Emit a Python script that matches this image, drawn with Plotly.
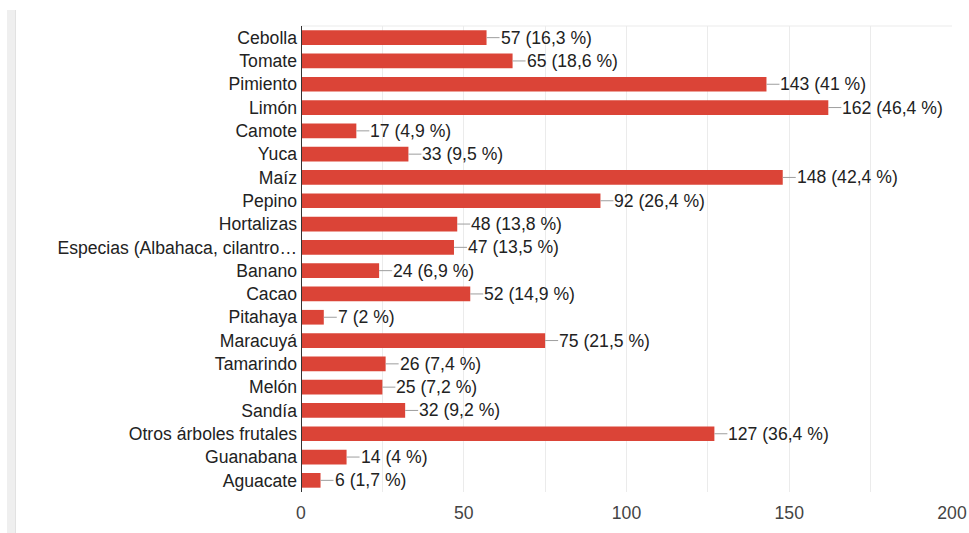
import plotly.graph_objects as go

categories = ["Cebolla", "Tomate", "Pimiento", "Limón", "Camote", "Yuca", "Maíz", "Pepino",
              "Hortalizas", "Especias (Albahaca, cilantro…", "Banano", "Cacao", "Pitahaya",
              "Maracuyá", "Tamarindo", "Melón", "Sandía", "Otros árboles frutales",
              "Guanabana", "Aguacate"]
counts = [57, 65, 143, 162, 17, 33, 148, 92, 48, 47, 24, 52, 7, 75, 26, 25, 32, 127, 14, 6]
percents = ["16,3", "18,6", "41", "46,4", "4,9", "9,5", "42,4", "26,4", "13,8", "13,5",
            "6,9", "14,9", "2", "21,5", "7,4", "7,2", "9,2", "36,4", "4", "1,7"]
x_ticks = [0, 50, 100, 150, 200]

FONT = "Liberation Sans, Arial, sans-serif"
BAR = "#db4437"
FS = 17.6

# plot area spans page x 301..952, y 26..492
ML, MT = 301, 26
PW, PH = 651, 466
W, H = 969, 533

fig = go.Figure(go.Bar(
    x=counts, y=categories, orientation="h",
    marker=dict(color=BAR, line=dict(width=0)),
    width=0.63, hoverinfo="x+y",
))

annotations = []
for c, v, p in zip(categories, counts, percents):
    annotations.append(dict(
        x=v, y=c, xref="x", yref="y",
        text=f"{v} ({p} %)", showarrow=True, arrowhead=0, arrowwidth=1,
        arrowcolor="#9e9e9e", ax=13, ay=0, axref="pixel", ayref="pixel",
        xanchor="left", yanchor="middle", standoff=0, startstandoff=0,
        borderpad=0, font=dict(family=FONT, size=FS, color="#222222"),
    ))

fig.update_layout(
    width=W, height=H,
    margin=dict(l=ML, r=W - ML - PW, t=MT, b=H - MT - PH, autoexpand=False),
    paper_bgcolor="white", plot_bgcolor="white",
    font=dict(family=FONT, size=FS, color="#222222"),
    showlegend=False,
    annotations=annotations,
    xaxis=dict(
        range=[0, 200], tickvals=x_ticks, showgrid=True, gridcolor="#ebebeb", gridwidth=1,
        minor=dict(dtick=25, tick0=0, showgrid=True, gridcolor="#ebebeb", gridwidth=1),
        zeroline=False, showline=False, ticks="", ticklabelstandoff=8,
        tickfont=dict(family=FONT, size=FS, color="#444444"),
        mirror=False, fixedrange=True, automargin=False,
    ),
    yaxis=dict(
        categoryorder="array", categoryarray=categories, autorange="reversed",
        showgrid=False, zeroline=False, ticks="", ticklabelstandoff=3,
        tickfont=dict(family=FONT, size=FS, color="#222222"),
        showline=False, fixedrange=True, automargin=False,
    ),
    shapes=[
        dict(type="line", xref="paper", yref="paper", x0=0, x1=1, y0=1, y1=1,
             line=dict(color="#ebebeb", width=1), layer="below"),
        dict(type="line", xref="x", yref="paper", x0=0, x1=0, y0=0, y1=1,
             line=dict(color="#333333", width=2), layer="above"),
        dict(type="rect", xref="paper", yref="paper",
             x0=(7 - ML) / PW, x1=(16 - ML) / PW,
             y0=-(H - MT - PH) / PH, y1=(PH + 16) / PH,
             fillcolor="#efefef", line=dict(width=0), layer="below"),
        dict(type="line", xref="paper", yref="paper",
             x0=(15.5 - ML) / PW, x1=(15.5 - ML) / PW,
             y0=-(H - MT - PH) / PH, y1=(PH + 16) / PH,
             line=dict(color="#e2e2e2", width=1), layer="below"),
    ],
)

fig.write_html("out.html", config={"displayModeBar": False},
               post_script="document.body.style.margin='0';")
